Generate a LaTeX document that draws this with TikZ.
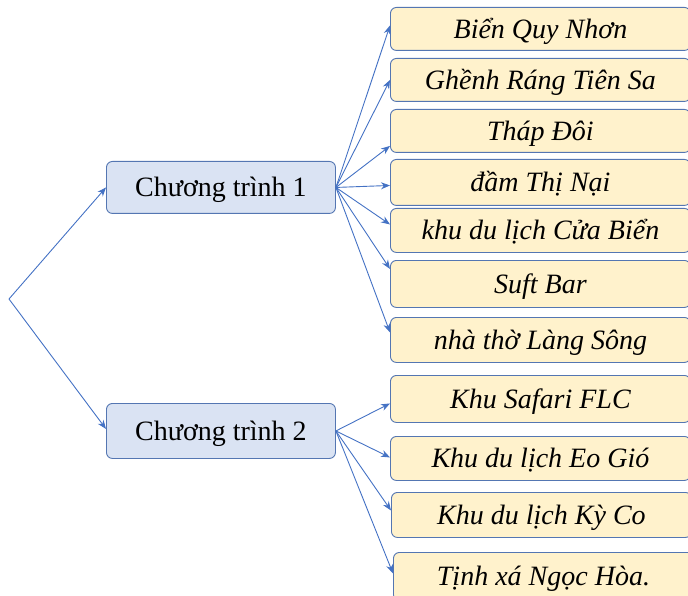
\documentclass[tikz,border=0pt]{standalone}
\usepackage{fontspec}
\setmainfont{Liberation Serif}
\usetikzlibrary{arrows.meta}
\definecolor{bfill}{HTML}{DAE3F3}
\definecolor{yfill}{HTML}{FFF2CC}
\definecolor{bdraw}{RGB}{84,118,178}
\definecolor{arrc}{HTML}{4472C4}
\tikzset{
  boxbase/.style={draw=bdraw, line width=0.9pt, rounded corners=6pt,
    anchor=north west, inner sep=0pt, text height=22pt, text depth=3pt},
  prog/.style={boxbase, fill=bfill, minimum width=229pt,
    font=\fontsize{28}{32}\selectfont},
  place/.style={boxbase, fill=yfill, minimum width=300pt,
    font=\fontsize{28}{32}\selectfont\itshape},
  arr/.style={draw=arrc, line width=0.9pt, -{Stealth[length=9pt,width=7pt]}}
}
\begin{document}
\begin{tikzpicture}[x=1pt,y=-1pt]
\useasboundingbox (0,0) rectangle (688,596);
\clip (0,0) rectangle (688,596);
\coordinate (root) at (9,299);
\node[prog, minimum height=52pt] (c1) at (106,161) {Chương trình 1};
\node[prog, minimum height=55pt] (c2) at (106,403) {Chương trình 2};

\node[place, minimum height=43pt] (b1) at (390,7) {Biển Quy Nhơn};
\node[place, minimum height=43pt] (b2) at (390,58) {Ghềnh Ráng Tiên Sa};
\node[place, minimum height=43pt] (b3) at (390,109) {Tháp Đôi};
\node[place, minimum height=46pt] (b4) at (390,159) {đầm Thị Nại};
\node[place, minimum height=44pt] (b5) at (390,208) {khu du lịch Cửa Biển};
\node[place, minimum height=47pt] (b6) at (390,260) {Suft Bar};
\node[place, minimum height=45pt] (b7) at (390,317) {nhà thờ Làng Sông};
\node[place, minimum height=47pt] (b8) at (390,375) {Khu Safari FLC};
\node[place, minimum height=44pt] (b9) at (390,436) {Khu du lịch Eo Gió};
\node[place, minimum height=45pt] (b10) at (391,492) {Khu du lịch Kỳ Co};
\node[place, minimum height=48pt] (b11) at (393,552) {Tịnh xá Ngọc Hòa.};

\draw[arr] (root) -- (c1.west);
\draw[arr] (root) -- ([yshift=2pt]c2.west);

\draw[arr] (c1.east) -- ([yshift=3.5pt]b1.west);
\draw[arr] (c1.east) -- (b2.west);
\draw[arr] (c1.east) -- ([yshift=-15pt]b3.west);
\draw[arr] (c1.east) -- ([yshift=-3pt]b4.west);
\draw[arr] (c1.east) -- ([yshift=6pt]b5.west);
\draw[arr] (c1.east) -- ([yshift=15pt]b6.west);
\draw[arr] (c1.east) -- ([yshift=7.5pt]b7.west);

\draw[arr] (c2.east) -- ([yshift=-4.5pt]b8.west);
\draw[arr] (c2.east) -- ([yshift=1pt]b9.west);
\draw[arr] (c2.east) -- ([yshift=4.5pt]b10.west);
\draw[arr] (c2.east) -- ([yshift=3pt]b11.west);
\end{tikzpicture}
\end{document}
